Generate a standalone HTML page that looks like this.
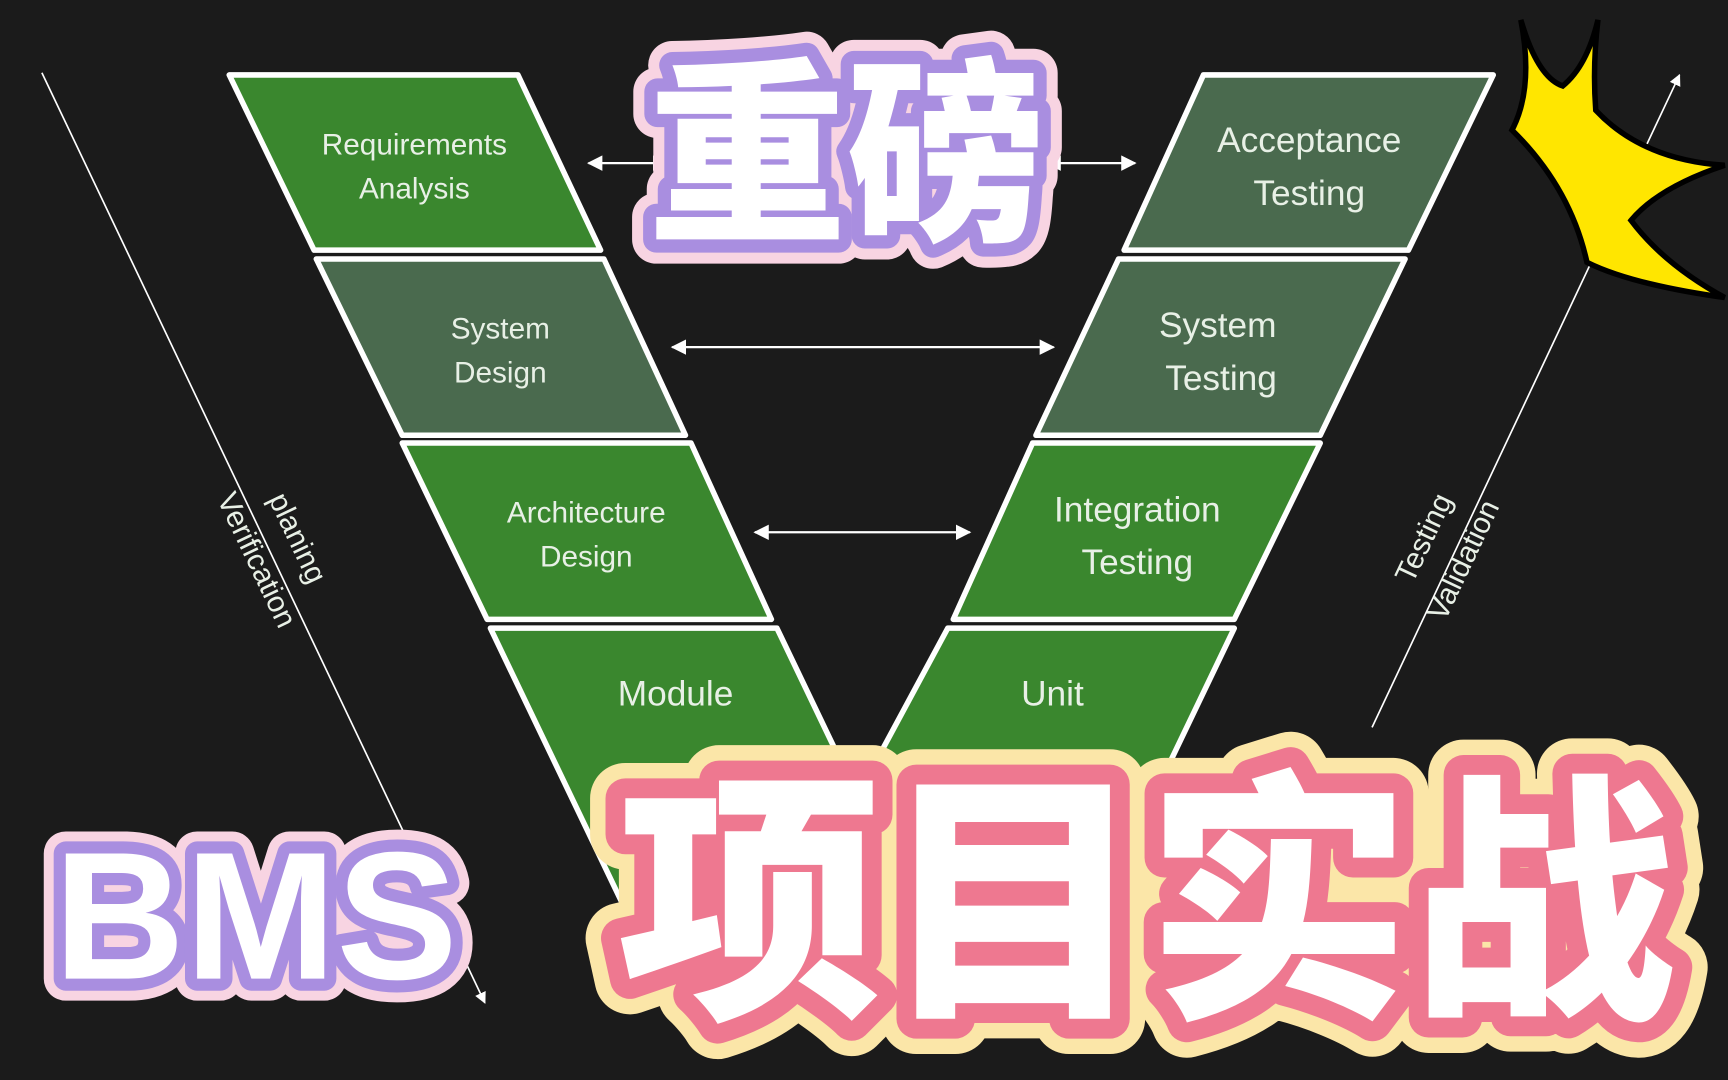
<!DOCTYPE html>
<html><head><meta charset="utf-8"><style>
html,body{margin:0;padding:0;background:#1b1b1b;width:1728px;height:1080px;overflow:hidden}
svg{display:block}
.lbl{font-family:"Liberation Sans","DejaVu Sans",sans-serif;fill:#e8f0e6;text-anchor:middle}
.big{font-family:"Noto Sans CJK SC","WenQuanYi Zen Hei",sans-serif;font-weight:900;text-anchor:middle;stroke-linejoin:round}
.bms{font-family:"Liberation Sans",sans-serif;font-weight:bold;text-anchor:middle;stroke-linejoin:round}
</style></head><body>
<svg width="1728" height="1080" viewBox="0 0 1568 980" preserveAspectRatio="none">
<defs>
<marker id="ah" viewBox="0 0 10 10" refX="9" refY="5" markerWidth="7" markerHeight="7" orient="auto-start-reverse"><path d="M0,0L10,5L0,10z" fill="#fff"/></marker>
</defs>
<rect width="1568" height="980" fill="#1b1b1b"/>
<g stroke="#fff" stroke-width="5" stroke-linejoin="round">
<polygon points="208,68 470,68 545,227 285,227" fill="#3a872e"/>
<polygon points="287,235 548,235 622,395 365,395" fill="#4a6a4e"/>
<polygon points="365,402 627,402 700,562 442,562" fill="#3a872e"/>
<polygon points="445,570 705,570 868,910 608,910" fill="#3a872e"/>
<polygon points="1092,68 1355,68 1278,227 1020,227" fill="#4a6a4e"/>
<polygon points="1015,235 1275,235 1198,395 940,395" fill="#4a6a4e"/>
<polygon points="937,402 1198,402 1120,562 865,562" fill="#3a872e"/>
<polygon points="860,570 1120,570 957,910 677,910" fill="#3a872e"/>
</g>
<rect x="612" y="735" width="340" height="172" fill="#3a872e"/>
<g class="lbl" font-size="27">
<text x="376" y="140">Requirements</text><text x="376" y="180">Analysis</text>
<text x="454" y="307">System</text><text x="454" y="347">Design</text>
<text x="532" y="474">Architecture</text><text x="532" y="514">Design</text>
<text x="613" y="640" font-size="32">Module</text>
</g>
<g class="lbl" font-size="32">
<text x="1188" y="138">Acceptance</text><text x="1188" y="186">Testing</text>
<text x="1105" y="306">System</text><text x="1108" y="354">Testing</text>
<text x="1032" y="473">Integration</text><text x="1032" y="521">Testing</text>
<text x="955" y="640">Unit</text>
</g>
<g stroke="#fff" stroke-width="2" fill="none" marker-end="url(#ah)" marker-start="url(#ah)">
<line x1="534" y1="148" x2="605" y2="148"/>
<line x1="950" y1="148" x2="1030" y2="148"/>
<line x1="610" y1="315" x2="956" y2="315"/>
<line x1="685" y1="483" x2="880" y2="483"/>
</g>
<g stroke="#fff" stroke-width="1.5" fill="none" marker-end="url(#ah)">
<line x1="38" y1="66" x2="440" y2="910"/>
<line x1="1245" y1="660" x2="1524" y2="68"/>
</g>
<g class="lbl" font-size="27" fill="#fff">
<text transform="translate(262,492) rotate(64.5)">planing</text>
<text transform="translate(225,512) rotate(64.5)">Verification</text>
<text transform="translate(1300,492) rotate(-64.7)">Testing</text>
<text transform="translate(1336,512) rotate(-64.7)">Validation</text>
</g>
<path d="M1380,18 Q1395,70 1418,78 Q1440,60 1450,18 Q1445,60 1448,100 Q1490,145 1565,150 Q1505,170 1480,200 Q1510,240 1565,270 Q1480,258 1440,238 Q1425,170 1372,118 Q1392,80 1380,18 Z" fill="#ffe600" stroke="#000" stroke-width="5"/>
<g class="big" font-size="180">
<text x="768" y="205" fill="none" stroke="#f8d4e2" stroke-width="44">重磅</text>
<text x="768" y="205" fill="none" stroke="#a98ee0" stroke-width="24">重磅</text>
<text x="768" y="205" fill="#fff">重磅</text>
</g>
<g class="bms" font-size="165">
<text x="232" y="888" fill="none" stroke="#f8d4e2" stroke-width="40">BMS</text>
<text x="232" y="888" fill="none" stroke="#a98ee0" stroke-width="22">BMS</text>
<text x="232" y="888" fill="#fff">BMS</text>
</g>
<g class="big" font-size="240">
<text x="1040" y="905" fill="none" stroke="#fbe6a8" stroke-width="64">项目实战</text>
<text x="1040" y="905" fill="none" stroke="#ee7890" stroke-width="36">项目实战</text>
<text x="1040" y="905" fill="#fff">项目实战</text>
</g>
</svg>
</body></html>
